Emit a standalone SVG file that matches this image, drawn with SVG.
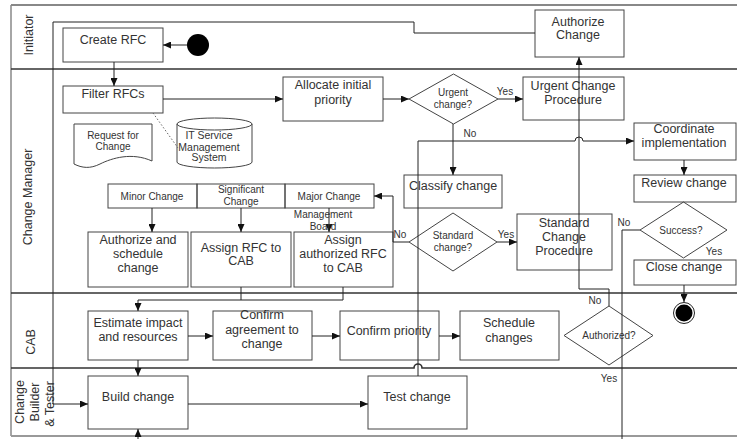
<svg xmlns="http://www.w3.org/2000/svg" width="737" height="439" viewBox="0 0 737 439">
<defs>
<marker id="arr" markerWidth="8" markerHeight="7" refX="8" refY="3.5" orient="auto" markerUnits="userSpaceOnUse"><path d="M0,0 L8,3.5 L0,7 z" fill="#111"/></marker>
<style>
.box{fill:none;stroke:#444;stroke-width:1}
.shp{fill:none;stroke:#444;stroke-width:1}
.t{font-family:"Liberation Sans",Arial,sans-serif;font-size:12.5px;fill:#333;text-anchor:middle}
.s{font-family:"Liberation Sans",Arial,sans-serif;font-size:10px;fill:#333;text-anchor:middle}
.lane{font-family:"Liberation Sans",Arial,sans-serif;font-size:12.5px;fill:#333;text-anchor:middle}
.c{fill:none;stroke:#222;stroke-width:1}
.ca{fill:none;stroke:#222;stroke-width:1;marker-end:url(#arr)}
.ln{fill:none;stroke:#333;stroke-width:1.6}
</style>
</defs>
<rect width="737" height="439" fill="#fff"/>
<g id="lanes">
<path d="M11,5 H737" stroke="#888" stroke-width="2" fill="none"/>
<path d="M11,5 V436" stroke="#888" stroke-width="1.5" fill="none"/>
<path class="ln" d="M11,69 H737" stroke-width="2"/>
<path class="ln" d="M11,293 H737"/>
<path class="ln" d="M11,368 H414 A4,4 0 0 1 422,368 H737"/>
<path d="M11,436 H737" stroke="#999" stroke-width="2" fill="none"/>
<text class="lane" transform="translate(33,35) rotate(-90)">Initiator</text>
<text class="lane" transform="translate(32,197) rotate(-90)">Change Manager</text>
<text class="lane" transform="translate(35,342) rotate(-90)">CAB</text>
<text class="lane" transform="translate(24,402) rotate(-90)">Change</text>
<text class="lane" transform="translate(39,402) rotate(-90)">Builder</text>
<text class="lane" transform="translate(54,404) rotate(-90)">&amp; Tester</text>
</g>
<g id="start"><circle cx="198" cy="45" r="11" fill="#000"/></g>
<g id="n-create"><rect class="box" x="63" y="28" width="100" height="34"/><text class="t" x="113" y="43.5">Create RFC</text></g>
<g id="n-filter"><rect class="box" x="63" y="86" width="100" height="27"/><text class="t" x="113" y="97.5">Filter RFCs</text></g>
<g id="n-doc"><path class="shp" d="M74,124 H152 V161 C132,152 112,158 100,164 C90,169 82,168 74,164 Z"/><text class="s" x="113" y="138.5">Request for</text><text class="s" x="113" y="150">Change</text></g>
<g id="n-itsm"><path class="shp" d="M177,124 A37.5,6 0 0 1 252,124 V162 A37.5,6 0 0 1 177,162 Z"/><path class="shp" d="M177,124 A37.5,6 0 0 0 252,124"/><text class="s" x="209" y="139" style="font-size:10.5px">IT Service</text><text class="s" x="209" y="150.5" style="font-size:10.5px">Management</text><text class="s" x="209" y="161" style="font-size:10.5px">System</text></g>
<g id="n-alloc"><rect class="box" x="283" y="77" width="100" height="44"/><text class="t" x="333" y="88.5">Allocate initial</text><text class="t" x="333" y="103.5">priority</text></g>
<g id="n-urgent"><path class="shp" d="M409,99 L453.5,74 L498,99 L453.5,124 Z"/><text class="s" x="453" y="95.5">Urgent</text><text class="s" x="453" y="107.5">change?</text></g>
<g id="n-ucp"><rect class="box" x="523" y="77" width="101" height="43"/><text class="t" x="573" y="89.5">Urgent Change</text><text class="t" x="573" y="103.5">Procedure</text></g>
<g id="n-authorize"><rect class="box" x="535" y="10" width="89" height="47"/><text class="t" x="578" y="25.5">Authorize</text><text class="t" x="578" y="38.5">Change</text></g>
<g id="n-coord"><rect class="box" x="634" y="123" width="102" height="37"/><text class="t" x="684" y="132.5">Coordinate</text><text class="t" x="684" y="146.5">implementation</text></g>
<g id="n-review"><rect class="box" x="634" y="175" width="102" height="27"/><text class="t" x="684" y="186.5">Review change</text></g>
<g id="n-success"><path class="shp" d="M640,230 L683.5,202 L727,230 L683.5,258 Z"/><text class="s" x="681" y="233.5">Success?</text></g>
<g id="n-close"><rect class="box" x="634" y="260" width="102" height="25"/><text class="t" x="684" y="270.5">Close change</text></g>
<g id="end"><circle cx="684" cy="313" r="10.5" fill="#fff" stroke="#222" stroke-width="1"/><circle cx="684" cy="313" r="8.5" fill="#000"/></g>
<g id="n-classify"><rect class="box" x="404" y="175" width="98" height="33"/><text class="t" x="453" y="189.5">Classify change</text></g>
<g id="n-std"><path class="shp" d="M409,242 L453,213 L497,242 L453,271 Z"/><text class="s" x="453" y="238.5">Standard</text><text class="s" x="453" y="250.5">change?</text></g>
<g id="n-scp"><rect class="box" x="517" y="214" width="95" height="56"/><text class="t" x="564" y="226.5">Standard</text><text class="t" x="564" y="240.5">Change</text><text class="t" x="564" y="254.5">Procedure</text></g>
<g id="n-table"><rect class="box" x="108" y="184" width="89" height="24"/><rect class="box" x="197" y="184" width="88" height="24"/><rect class="box" x="285" y="184" width="89" height="24"/><text class="s" x="152" y="199.5">Minor Change</text><text class="s" x="241" y="192.5">Significant</text><text class="s" x="241" y="205">Change</text><text class="s" x="329" y="199.5">Major Change</text></g>
<g id="n-authsched"><rect class="box" x="88" y="232" width="100" height="55"/><text class="t" x="138" y="243.5">Authorize and</text><text class="t" x="138" y="257.5">schedule</text><text class="t" x="138" y="271.5">change</text></g>
<g id="n-assign"><rect class="box" x="191" y="232" width="100" height="55"/><text class="t" x="241" y="251.5">Assign RFC to</text><text class="t" x="241" y="265">CAB</text></g>
<g id="n-assignauth"><rect class="box" x="294" y="232" width="99" height="55"/><text class="t" x="343" y="243.5">Assign</text><text class="t" x="343" y="257.5">authorized RFC</text><text class="t" x="343" y="271.5">to CAB</text></g>
<g id="n-estimate"><rect class="box" x="88" y="311" width="100" height="49"/><text class="t" x="138" y="326.5">Estimate impact</text><text class="t" x="138" y="340.5">and resources</text></g>
<g id="n-agree"><rect class="box" x="213" y="311" width="99" height="49"/><text class="t" x="262" y="318.5">Confirm</text><text class="t" x="262" y="333.5">agreement to</text><text class="t" x="262" y="347.5">change</text></g>
<g id="n-priority"><rect class="box" x="340" y="311" width="99" height="49"/><text class="t" x="389" y="334.5">Confirm priority</text></g>
<g id="n-schedule"><rect class="box" x="460" y="311" width="99" height="49"/><text class="t" x="509" y="326.5">Schedule</text><text class="t" x="509" y="341.5">changes</text></g>
<g id="n-authorized"><path class="shp" d="M564,335.5 L609,306 L653,335.5 L609,365 Z"/><text class="s" x="609" y="338.5">Authorized?</text></g>
<g id="n-build"><rect class="box" x="88" y="376" width="100" height="53"/><text class="t" x="138" y="400.5">Build change</text></g>
<g id="n-test"><rect class="box" x="368" y="376" width="99" height="53"/><text class="t" x="417" y="400.5">Test change</text></g>
<g id="connectors">
<path class="ca" d="M187,45 H163"/>
<path class="ca" d="M114,62 V86"/>
<path class="ca" d="M163,99 H283"/>
<path class="ca" d="M383,99 H409"/>
<path class="ca" d="M498,99 H523"/>
<path class="ca" d="M453,124 V175"/>
<path d="M153,113 L178,148" stroke="#666" stroke-width="1" stroke-dasharray="1.5,2" fill="none"/>
<path class="ca" d="M409,242 H393 V196 H374"/>
<path class="ca" d="M497,242 H517"/>
<path class="ca" d="M152,208 V232"/>
<path class="ca" d="M241,208 V232"/>
<path class="ca" d="M329,208 V232"/>
<path class="c" d="M241,287 V300"/>
<path class="ca" d="M343,287 V300 H138 V311"/>
<path class="ca" d="M188,336 H213"/>
<path class="ca" d="M312,336 H340"/>
<path class="ca" d="M439,336 H460"/>
<path class="ca" d="M138,360 V376"/>
<path class="ca" d="M138,439 V429"/>
<path class="ca" d="M535,33 H414 V22 H53 V404 H88"/>
<path class="ca" d="M188,404 H368"/>
<path class="ca" d="M418,376 V141 H575 A4,4 0 0 1 583,141 H634"/>
<path class="ca" d="M609,306 V289 H579 V57"/>
<path class="ca" d="M684,160 V175"/>
<path class="ca" d="M684,285 V302"/>
<path class="c" d="M640,230 H622 V439"/>
<text class="s" x="505" y="94.5">Yes</text>
<text class="s" x="470" y="136.5">No</text>
<text class="s" x="400" y="237.5">No</text>
<text class="s" x="506" y="237.5">Yes</text>
<text class="s" x="624" y="225.5">No</text>
<text class="s" x="714" y="254.5">Yes</text>
<text class="s" x="595" y="303.5">No</text>
<text class="s" x="609" y="381.5">Yes</text>
<text class="s" x="323" y="217.5">Management</text>
<text class="s" x="323" y="229.5">Board</text>
</g>
</svg>
